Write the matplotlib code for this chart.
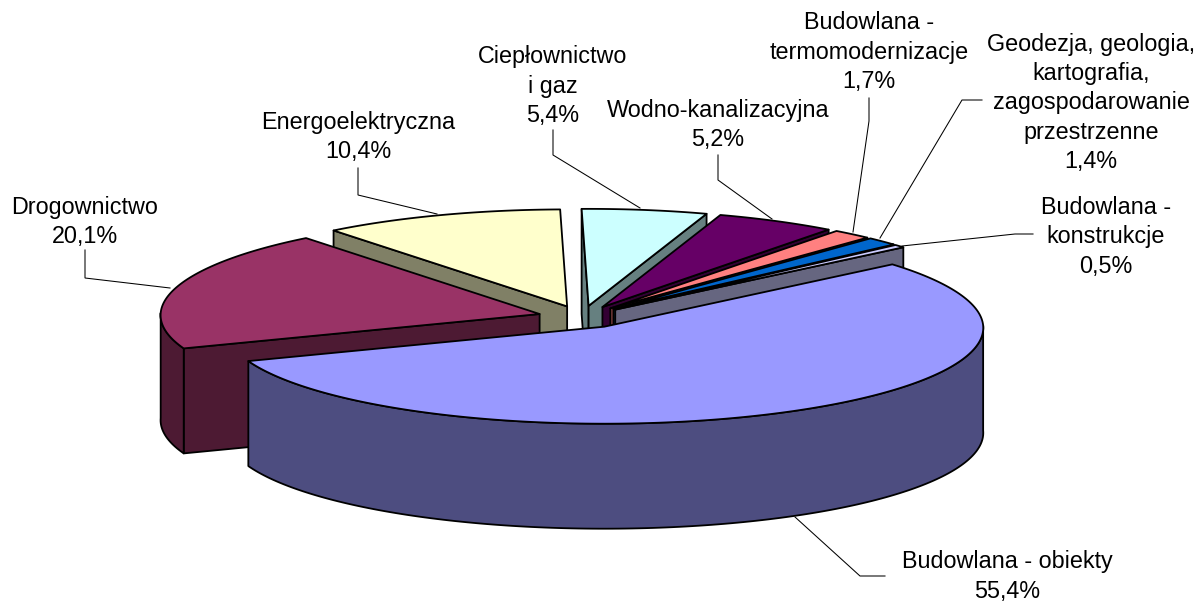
import numpy as np
import matplotlib
matplotlib.use("Agg")
import matplotlib.pyplot as plt

categories = ["Budowlana - obiekty", "Drogownictwo", "Energoelektryczna",
              "Ciepłownictwo\ni gaz", "Wodno-kanalizacyjna",
              "Budowlana -\ntermomodernizacje",
              "Geodezja, geologia,\nkartografia,\nzagospodarowanie\nprzestrzenne",
              "Budowlana -\nkonstrukcje"]
shares = [55.4, 20.1, 10.4, 5.4, 5.2, 1.7, 1.4, 0.5]
colors = ["#9999FF", "#993366", "#FFFFCC", "#CCFFFF", "#660066", "#FF8080", "#0066CC", "#CCCCFF"]

label_pos = [(1007, 576.5), (85, 222), (358, 137), (553, 86), (718, 125), (869, 52), (1091, 103), (1106, 237)]
leaders = [[(885, 576), (860, 576), (795, 517)],
           [(85, 250), (85, 278), (170, 288)],
           [(358, 168), (358, 195), (437, 214)],
           [(553, 130), (553, 155), (640, 208)],
           [(718, 155), (718, 180), (772, 219)],
           [(869, 98), (869, 121), (853, 232)],
           [(982, 100), (962, 100), (880, 238)],
           [(1033, 234), (1015, 234), (902, 246)]]

CX, CY = 582.0, 317.0
RX, RY = 379.0, 97.0
EXPLODE = 0.116
DEPTH = 105.0
START = 50.0
PERSP = 0.012

fig = plt.figure(figsize=(11.98, 6.01), dpi=100)
ax = fig.add_axes([0, 0, 1, 1])
ax.set_xlim(0, 1198)
ax.set_ylim(601, 0)
ax.axis("off")


def project(th, r, centre):
    u, v = np.sin(th) * r, np.cos(th) * r
    k = 1 - PERSP * v
    return centre[0] + RX * u * k, centre[1] - RY * v


angles = np.cumsum([0] + [s / sum(shares) * 360 for s in shares]) + START
order = []
for i in range(len(shares)):
    a0, a1 = np.radians(angles[i]), np.radians(angles[i + 1])
    mid = (a0 + a1) / 2
    order.append((np.cos(mid), i, a0, a1, mid))
order.sort(key=lambda t: -t[0])

edge = dict(edgecolor="black", linewidth=1.3, joinstyle="round")
for depth_key, i, a0, a1, mid in order:
    top = colors[i]
    side = tuple(0.5 * c for c in matplotlib.colors.to_rgb(top))
    c = (CX + EXPLODE * RX * np.sin(mid), CY - EXPLODE * RY * np.cos(mid))
    ths = np.linspace(a0, a1, max(8, int(np.degrees(a1 - a0))))
    rx, ry = project(ths, 1.0, c)
    # radial faces
    for th, sign in ((a0, -1), (a1, 1)):
        if sign * np.sin(th) > 0:
            px, py = project(th, 1.0, c)
            ax.fill([c[0], px, px, c[0]], [c[1], py, py + DEPTH, c[1] + DEPTH],
                    facecolor=side, **edge)
    # outer wall (front half of the rim only)
    mask = np.cos(ths) <= 0.02
    if mask.any():
        wx, wy = rx[mask], ry[mask]
        ax.fill(np.r_[wx, wx[::-1]], np.r_[wy, wy[::-1] + DEPTH], facecolor=side, **edge)
    # top face
    ax.fill(np.r_[c[0], rx], np.r_[c[1], ry], facecolor=top, **edge)

for pts in leaders:
    xs, ys = zip(*pts)
    ax.plot(xs, ys, color="black", lw=0.75, solid_joinstyle="miter")

for name, s, (x, y) in zip(categories, shares, label_pos):
    txt = name + "\n" + f"{s:.1f}".replace(".", ",") + "%"
    ax.text(x, y, txt, ha="center", va="center", fontsize=16.8,
            family="Liberation Sans", linespacing=1.34, color="black")

fig.savefig("out.png", dpi=100, facecolor="white")
